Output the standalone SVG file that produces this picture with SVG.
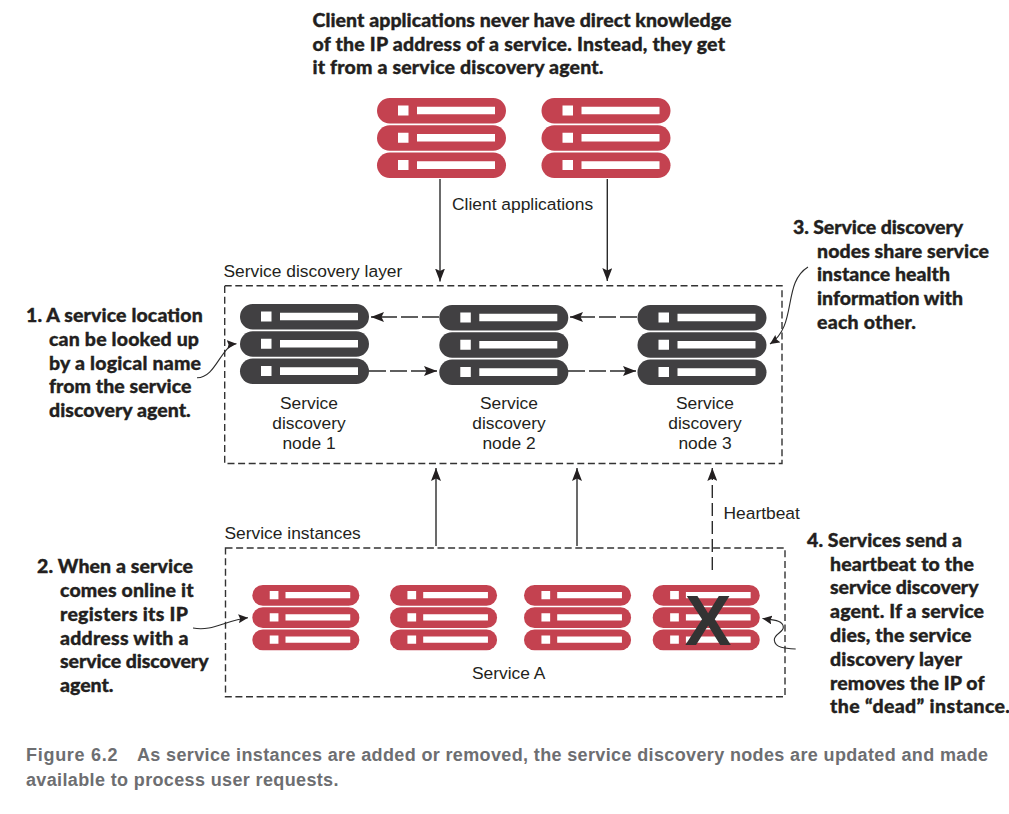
<svg xmlns="http://www.w3.org/2000/svg" xmlns:xlink="http://www.w3.org/1999/xlink" width="1009" height="814" viewBox="0 0 1009 814">
<style>
.note{font-family:"Lato","Liberation Sans",sans-serif;font-weight:900;font-size:19.5px;fill:#231f20;stroke:#231f20;stroke-width:.35}
.label{font-family:"Liberation Sans",Arial,sans-serif;font-size:17.4px;fill:#231f20}
.cap{font-family:"Liberation Sans",Arial,sans-serif;font-weight:700;font-size:18px;fill:#6d6e71}
.box{fill:none;stroke:#333;stroke-width:1.4;stroke-dasharray:7 3.6}
.line{fill:none;stroke:#2b2b2b;stroke-width:1.4}
.dash{stroke-dasharray:17 4}
.dash2{stroke-dasharray:13 5}
.thin{stroke-width:1.1}
.red{fill:#c44250}
.dark{fill:#414042}
.hole{fill:#fff}
</style>
<defs>
<marker id="head" markerUnits="userSpaceOnUse" markerWidth="14" markerHeight="10" refX="13" refY="5" orient="auto"><path d="M0 0L13 5L0 10L2.5 5Z" fill="#231f20"/></marker>
<marker id="headS" markerUnits="userSpaceOnUse" markerWidth="10" markerHeight="9" refX="9.5" refY="4.5" orient="auto"><path d="M0 0L9.5 4.5L0 9L1.5 4.5Z" fill="#231f20"/></marker>
<g id="srv">
<rect x="0" y="0" width="129" height="25.5" rx="12.75"/>
<rect x="0" y="27.3" width="129" height="25.5" rx="12.75"/>
<rect x="0" y="54.6" width="129" height="25.5" rx="12.75"/>
<path class="hole" d="M21 7.500h10.500v10H21zM40 8.700h78v7.600H40zM21 34.800h10.500v10H21zM40 36h78v7.600H40zM21 62.100h10.500v10H21zM40 63.300h78v7.600H40z"/>
</g>
</defs>
<rect width="1009" height="814" fill="#fff"/>

<g id="top-note">
<text class="note" x="312.500" y="27" textLength="419">Client applications never have direct knowledge</text>
<text class="note" x="312.500" y="50.500" textLength="412.500">of the IP address of a service. Instead, they get</text>
<text class="note" x="312.500" y="74" textLength="291">it from a service discovery agent.</text>
</g>

<g id="client-1" class="red"><use xlink:href="#srv" href="#srv" x="377" y="98"/></g>
<g id="client-2" class="red"><use xlink:href="#srv" href="#srv" x="541.500" y="98"/></g>
<g id="client-label"><text class="label" x="452" y="209.500">Client applications</text></g>

<g id="layer-box"><rect class="box" x="224.700" y="285.700" width="557.300" height="177.800"/><text class="label" x="223.500" y="276.500">Service discovery layer</text></g>

<g id="sd-node-1" class="dark"><use xlink:href="#srv" href="#srv" x="240" y="304"/><text class="label" text-anchor="middle" x="309" y="408.500">Service</text><text class="label" text-anchor="middle" x="309" y="428.500">discovery</text><text class="label" text-anchor="middle" x="309" y="448.500">node 1</text></g>
<g id="sd-node-2" class="dark"><use xlink:href="#srv" href="#srv" x="439.300" y="305"/><text class="label" text-anchor="middle" x="509" y="408.500">Service</text><text class="label" text-anchor="middle" x="509" y="428.500">discovery</text><text class="label" text-anchor="middle" x="509" y="448.500">node 2</text></g>
<g id="sd-node-3" class="dark"><use xlink:href="#srv" href="#srv" x="637.500" y="305"/><text class="label" text-anchor="middle" x="705" y="408.500">Service</text><text class="label" text-anchor="middle" x="705" y="428.500">discovery</text><text class="label" text-anchor="middle" x="705" y="448.500">node 3</text></g>

<g id="instances-box"><rect class="box" x="225.500" y="548" width="559.500" height="148.700"/><text class="label" x="224.500" y="538.500">Service instances</text><text class="label" x="472" y="678.500">Service A</text></g>

<g id="service-1" class="red"><use xlink:href="#srv" href="#srv" transform="translate(252.300 585) scale(.83 .815)"/></g>
<g id="service-2" class="red"><use xlink:href="#srv" href="#srv" transform="translate(390 585) scale(.83 .815)"/></g>
<g id="service-3" class="red"><use xlink:href="#srv" href="#srv" transform="translate(524 585) scale(.83 .815)"/></g>
<g id="service-4" class="red"><use xlink:href="#srv" href="#srv" transform="translate(652.700 585) scale(.83 .815)"/><text x="708" y="645" text-anchor="middle" font-family="Liberation Sans,Arial,sans-serif" font-weight="700" font-size="70" fill="#333">X</text></g>

<g id="connectors">
<path class="line" d="M440 179V281.500" marker-end="url(#head)"/>
<path class="line" d="M607.300 179V281" marker-end="url(#head)"/>
<path class="line dash" d="M439 317H371" marker-end="url(#head)"/>
<path class="line dash" d="M637 317H570" marker-end="url(#head)"/>
<path class="line dash" d="M369 371H437" marker-end="url(#head)"/>
<path class="line dash" d="M568 371H636" marker-end="url(#head)"/>
<path class="line" d="M436 546V468" marker-end="url(#head)"/>
<path class="line" d="M577 546V468" marker-end="url(#head)"/>
<path class="line dash2" d="M712.300 570V468" marker-end="url(#head)"/>
<path class="line thin" d="M197 377.700C216 378 221 345 236.500 343.800" marker-end="url(#headS)"/>
<path class="line thin" d="M808 267C782 283 798 325 770 344" marker-end="url(#headS)"/>
<path class="line thin" d="M193 628C212 632 226 620 248 617.700" marker-end="url(#headS)"/>
<path class="line thin" d="M795.700 649C785 648.500 775 648 774.300 640C774 634 784 632 783.300 627C783 620 772 620 762.500 618.500" marker-end="url(#headS)"/>
</g>
<g id="heartbeat-label"><text class="label" x="723.500" y="519">Heartbeat</text></g>

<g id="note-1">
<text class="note" x="26" y="322" textLength="176.700">1. A service location</text>
<text class="note" x="49" y="346" textLength="150">can be looked up</text>
<text class="note" x="49" y="369.500" textLength="152">by a logical name</text>
<text class="note" x="49" y="393" textLength="142.500">from the service</text>
<text class="note" x="49" y="416.500" textLength="141.700">discovery agent.</text>
</g>
<g id="note-2">
<text class="note" x="37" y="573" textLength="156">2. When a service</text>
<text class="note" x="60" y="597" textLength="133.500">comes online it</text>
<text class="note" x="60" y="620.500" textLength="128">registers its IP</text>
<text class="note" x="60" y="644.500" textLength="128.500">address with a</text>
<text class="note" x="60" y="668" textLength="148.500">service discovery</text>
<text class="note" x="60" y="692" textLength="53.500">agent.</text>
</g>
<g id="note-3">
<text class="note" x="793" y="234" textLength="170">3. Service discovery</text>
<text class="note" x="817" y="257.500" textLength="172">nodes share service</text>
<text class="note" x="817" y="281" textLength="133">instance health</text>
<text class="note" x="817" y="305" textLength="146">information with</text>
<text class="note" x="817" y="328.500" textLength="99">each other.</text>
</g>
<g id="note-4">
<text class="note" x="807" y="547" textLength="155">4. Services send a</text>
<text class="note" x="830" y="570.500" textLength="144">heartbeat to the</text>
<text class="note" x="830" y="594" textLength="148.500">service discovery</text>
<text class="note" x="830" y="618" textLength="154">agent. If a service</text>
<text class="note" x="830" y="642" textLength="141.500">dies, the service</text>
<text class="note" x="830" y="665.500" textLength="132">discovery layer</text>
<text class="note" x="830" y="689.500" textLength="154.500">removes the IP of</text>
<text class="note" x="830" y="713" textLength="180">the “dead” instance.</text>
</g>

<g id="caption">
<text class="cap" x="26" y="761" textLength="91.500">Figure 6.2</text>
<text class="cap" x="137" y="761" textLength="851">As service instances are added or removed, the service discovery nodes are updated and made</text>
<text class="cap" x="26" y="786" textLength="312.500">available to process user requests.</text>
</g>
</svg>
